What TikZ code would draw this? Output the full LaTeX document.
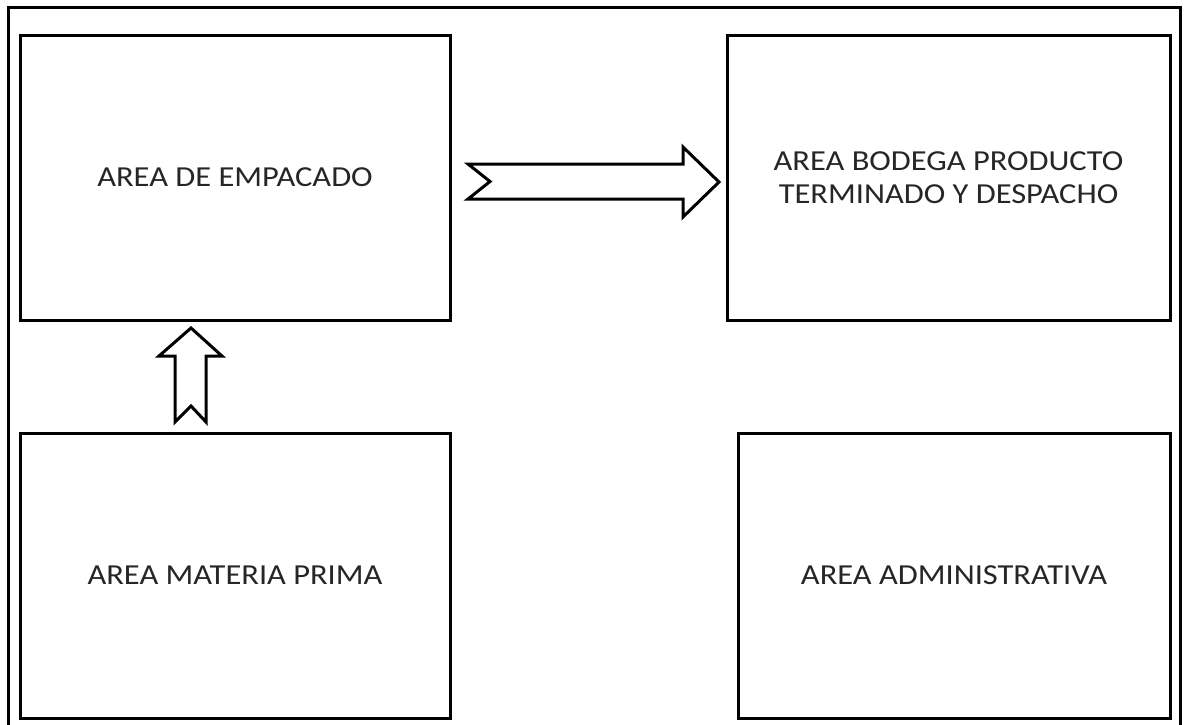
\documentclass[tikz,border=0pt]{standalone}
\usepackage{fontspec}
\setmainfont{Carlito}[FakeStretch=1.12]
\begin{document}
\begin{tikzpicture}[x=1pt, y=-1pt,
		area/.style={draw, line width=3pt, minimum height=285pt, align=center,
			font=\fontsize{29}{33}\selectfont, text=black!85},
		blockarrow/.style={draw, line width=3pt, fill=white, line join=miter}]
		\useasboundingbox (0,0) rectangle (1190,724);
		% outer frame
		\draw[line width=3pt] (8,728) -- (8,7) -- (1180,7) -- (1180,728);
		% areas
		\node[area, minimum width=430pt] (empacado) at (235,177.5) {AREA DE EMPACADO};
		\node[area, minimum width=443pt] (bodega) at (948.5,177.5) {AREA BODEGA PRODUCTO\\TERMINADO Y DESPACHO};
		\node[area, minimum width=430pt] (materia) at (235,575.5) {AREA MATERIA PRIMA};
		\node[area, minimum width=432pt] (admin) at (954,575.5) {AREA ADMINISTRATIVA};
		% flow arrows
		\draw[blockarrow] (468,164) -- (683,164) -- (683,147) -- (719,182) -- (683,217)
			-- (683,199) -- (468,199) -- (490,181.5) -- cycle;
		\draw[blockarrow] (175,422) -- (175,356) -- (159,356) -- (191,328) -- (222,356)
			-- (206,356) -- (206,422) -- (191,406) -- cycle;
\end{tikzpicture}
\end{document}
